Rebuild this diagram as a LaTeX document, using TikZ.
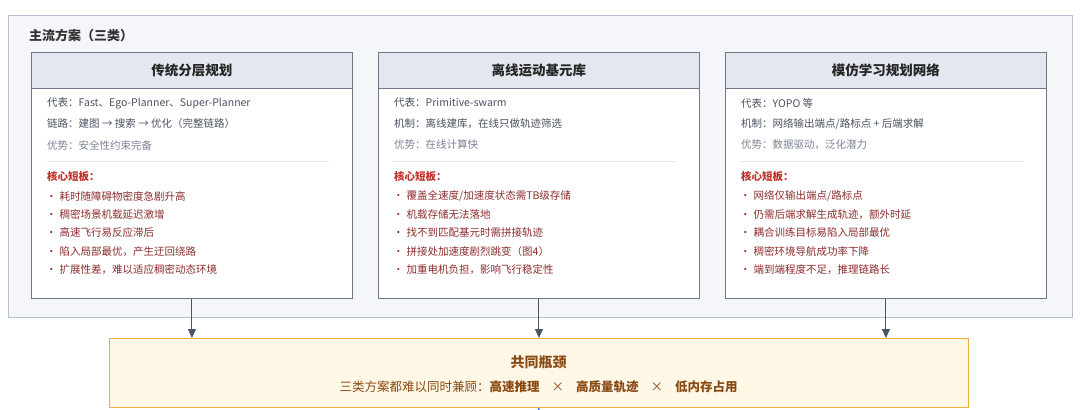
\documentclass[tikz,border=0pt]{standalone}
\usepackage{fontspec}
\setmainfont{Noto Sans CJK SC}
\usetikzlibrary{positioning,calc,arrows.meta}
\definecolor{groupfill}{HTML}{F4F6FA}
\definecolor{groupline}{HTML}{B4BFCF}
\definecolor{cardline}{HTML}{6E7889}
\definecolor{headfill}{HTML}{E3E8F0}
\definecolor{inktext}{HTML}{4A5261}
\definecolor{softtext}{HTML}{7B8392}
\definecolor{painred}{HTML}{C0302B}
\definecolor{paintext}{HTML}{8E2D2D}
\definecolor{neckfill}{HTML}{FFF8E7}
\definecolor{neckline}{HTML}{F2AE3C}
\definecolor{necktext}{HTML}{8A4A14}
\definecolor{flowcol}{HTML}{4A5568}
\definecolor{nextblue}{HTML}{3B6FD0}

% one planning family card
\newcommand\plancard[7]{%
  \node[card,anchor=north west] (#1) at (#2,52) {};
  \node[cardhead,anchor=north west] (#1-head) at (#2,52) {#3};
  \node[bodyline] (#1-rep) at ($(#1.north west)+(16,51)$) {#4};
  \node[bodyline] (#1-mech) at ($(#1.north west)+(16,72)$) {#5};
  \node[bodyline,text=softtext] (#1-adv) at ($(#1.north west)+(16,93)$) {#6};
  \draw[divider] ($(#1.north west)+(16,109)$) -- ($(#1.north east)+(-24,109)$);
  \node[paintitle] (#1-pain) at ($(#1.north west)+(16,124)$) {核心短板：};
  \foreach \b [count=\i] in {#7} {
    \node[painline] (#1-b\i) at ($(#1.north west)+(15,125.5+18.5*\i)$) {•\hspace{3pt}\b};
  }
}

\begin{document}
\begin{tikzpicture}[x=1pt,y=-1pt,
  group/.style={draw=groupline,fill=groupfill,line width=0.8pt,minimum width=1064pt,minimum height=302pt,inner sep=0pt},
  grouptitle/.style={anchor=west,font=\fontsize{13}{15}\selectfont\bfseries,text=black!80,inner sep=0pt},
  card/.style={draw=cardline,fill=white,line width=0.9pt,minimum width=321pt,minimum height=246pt,inner sep=0pt},
  cardhead/.style={draw=cardline,fill=headfill,line width=0.9pt,minimum width=321pt,minimum height=36pt,inner sep=0pt,
    font=\fontsize{13.5}{15}\selectfont\bfseries,text=black!85},
  bodyline/.style={anchor=west,inner sep=0pt,font=\fontsize{10.5}{12}\selectfont,text=inktext},
  divider/.style={draw=black!10,line width=0.6pt},
  paintitle/.style={anchor=west,inner sep=0pt,font=\fontsize{10.5}{12}\selectfont\bfseries,text=painred},
  painline/.style={anchor=west,inner sep=0pt,font=\fontsize{10.5}{12}\selectfont,text=paintext},
  neck/.style={draw=neckline,fill=neckfill,line width=1.1pt,minimum width=859pt,minimum height=69pt,inner sep=0pt},
  flow/.style={draw=flowcol,line width=1pt,-{Triangle[width=8pt,length=9pt]}}]

  \useasboundingbox (0,0) rectangle (1080,410);

  \node[group,anchor=north west] (main) at (8,15) {};
  \node[grouptitle] (main-title) at (29,35) {主流方案（三类）};

  \plancard{classic}{31}{传统分层规划}
    {代表：Fast、Ego-Planner、Super-Planner}
    {链路：建图 → 搜索 → 优化（完整链路）}
    {优势：安全性约束完备}
    {耗时随障碍物密度急剧升高,稠密场景机载延迟激增,高速飞行易反应滞后,陷入局部最优，产生迂回绕路,扩展性差，难以适应稠密动态环境}

  \plancard{prim}{378}{离线运动基元库}
    {代表：Primitive-swarm}
    {机制：离线建库，在线只做轨迹筛选}
    {优势：在线计算快}
    {覆盖全速度/加速度状态需TB级存储,机载存储无法落地,找不到匹配基元时需拼接轨迹,拼接处加速度剧烈跳变（图4）,加重电机负担，影响飞行稳定性}

  \plancard{imit}{725}{模仿学习规划网络}
    {代表：YOPO 等}
    {机制：网络输出端点/路标点 + 后端求解}
    {优势：数据驱动，泛化潜力}
    {网络仅输出端点/路标点,仍需后端求解生成轨迹，额外时延,耦合训练目标易陷入局部最优,稠密环境导航成功率下降,端到端程度不足，推理链路长}

  % common bottleneck
  \node[neck,anchor=north west] (neck) at (109,338) {};
  \node[font=\fontsize{14}{16}\selectfont\bfseries,text=necktext,inner sep=0pt] (neck-title) at (538.5,362) {共同瓶颈};
  \node[font=\fontsize{12.5}{14}\selectfont,text=necktext,inner sep=0pt] (neck-sub) at (538.5,387)
    {三类方案都难以同时兼顾：\textbf{高速推理}\hspace{12pt}×\hspace{12pt}\textbf{高质量轨迹}\hspace{12pt}×\hspace{12pt}\textbf{低内存占用}};

  \draw[flow] (classic.south) -- (classic.south |- neck.north);
  \draw[flow] (prim.south) -- (prim.south |- neck.north);
  \draw[flow] (imit.south) -- (imit.south |- neck.north);

  \coordinate (below) at (538.5,410);
  \draw[nextblue,line width=1.4pt] (neck.south) -- (below);

\end{tikzpicture}
\end{document}
